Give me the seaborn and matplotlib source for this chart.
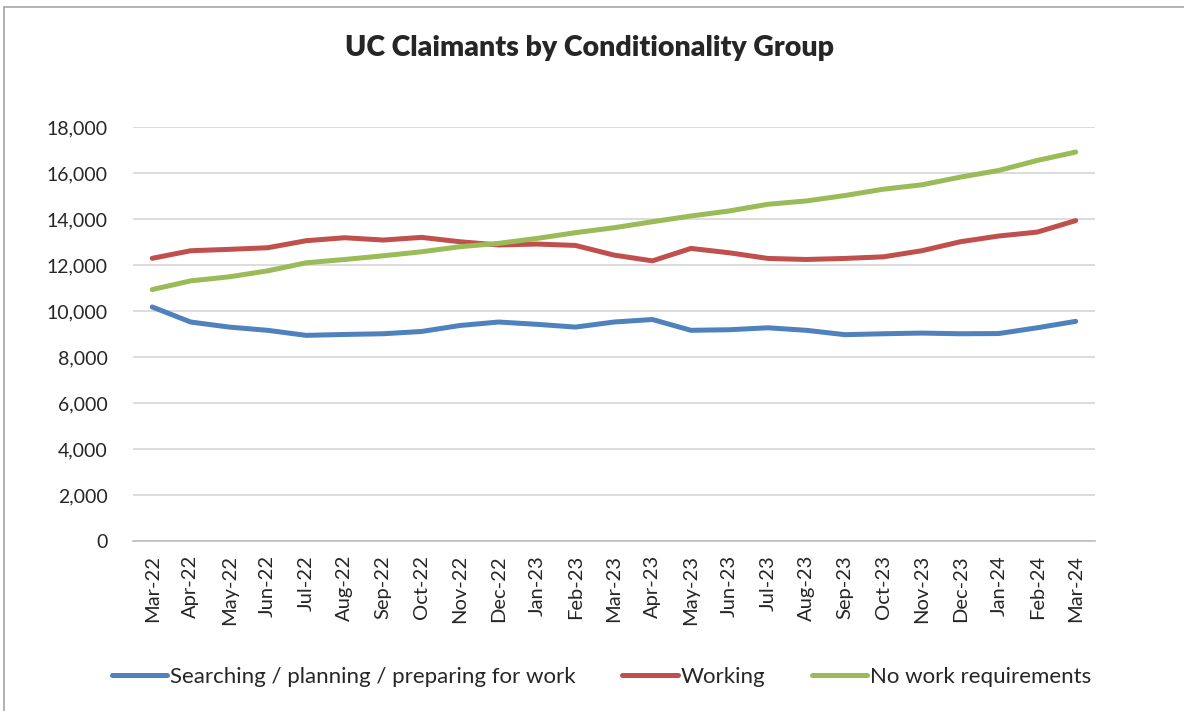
import pandas as pd
import numpy as np
import matplotlib
matplotlib.use("Agg")
import matplotlib.pyplot as plt
import seaborn as sns
from matplotlib.lines import Line2D

sns.set_theme(style="white")
plt.rcParams['font.family'] = ['Lato', 'DejaVu Sans']

# --- data ---
months = ["Mar-22", "Apr-22", "May-22", "Jun-22", "Jul-22", "Aug-22", "Sep-22",
          "Oct-22", "Nov-22", "Dec-22", "Jan-23", "Feb-23", "Mar-23", "Apr-23",
          "May-23", "Jun-23", "Jul-23", "Aug-23", "Sep-23", "Oct-23", "Nov-23",
          "Dec-23", "Jan-24", "Feb-24", "Mar-24"]

searching = [10175, 9520, 9300, 9160, 8940, 8980, 9010, 9110, 9370, 9520, 9420, 9300,
             9520, 9630, 9160, 9185, 9270, 9160, 8970, 9010, 9040, 9010, 9020, 9270, 9550]
working = [12290, 12620, 12680, 12750, 13055, 13185, 13085, 13200, 13010, 12870, 12910, 12850,
           12430, 12180, 12720, 12530, 12285, 12240, 12285, 12355, 12620, 13010, 13260, 13430, 13930]
no_work_req = [10930, 11310, 11485, 11745, 12095, 12240, 12400, 12575, 12795, 12940, 13155, 13405,
               13620, 13880, 14130, 14350, 14640, 14785, 15020, 15295, 15485, 15820, 16110, 16545, 16910]

series_names = ["Searching / planning / preparing for work", "Working", "No work requirements"]
colors = ["#4F81BD", "#C0504D", "#9BBB59"]

df = pd.DataFrame({
    "pos": list(range(len(months))) * 3,
    "value": searching + working + no_work_req,
    "group": [series_names[0]] * len(months) + [series_names[1]] * len(months) + [series_names[2]] * len(months),
})

fig = plt.figure(figsize=(11.84, 7.11), dpi=100)
ax = fig.add_axes([0.1123, 0.2391, 0.8125, 0.5823])

sns.lineplot(data=df, x="pos", y="value", hue="group", hue_order=series_names,
             palette=colors, linewidth=3.6, sort=False, ax=ax, legend=False)

ax.set_xlim(-0.5, len(months) - 0.5)
ax.set_ylim(0, 18000)
ax.set_yticks(np.arange(0, 18001, 2000))
ax.set_yticklabels([f"{v:,}" for v in range(0, 18001, 2000)], fontsize=14)
ax.yaxis.grid(True, color="#D9D9D9", linewidth=1.3)
ax.set_axisbelow(True)

ax.set_xticks(range(len(months)))
ax.set_xticklabels(months, rotation=90, fontsize=14.5)
ax.set_xticks(np.arange(-0.5, len(months), 1), minor=True)
ax.tick_params(axis="x", which="major", length=0, pad=10)
ax.tick_params(axis="x", which="minor", length=8, color="#BFBFBF", width=1.2, direction="out")
ax.tick_params(axis="y", length=0, pad=18)

for s in ["top", "right", "left"]:
    ax.spines[s].set_visible(False)
ax.spines["bottom"].set_color("#BFBFBF")
ax.spines["bottom"].set_linewidth(1.2)
ax.set_xlabel("")
ax.set_ylabel("")

fig.text(0.498, 0.933, "UC Claimants by Conditionality Group", ha="center", va="center",
         fontsize=20.5, fontweight="heavy")

handles = [Line2D([0], [0], color=c, linewidth=3.6) for c in colors]
fig.legend(handles, series_names, loc="center", bbox_to_anchor=(0.508, 0.048), ncol=3,
           frameon=False, fontsize=16, handlelength=2.5, handletextpad=0.12, columnspacing=2.1)

# outer frame of the chart area (top and left edges visible)
fig.add_artist(Line2D([4 / 1184, 4 / 1184], [0, 1 - 7 / 711], transform=fig.transFigure,
                      color="#A6A6A6", linewidth=1.2))
fig.add_artist(Line2D([4 / 1184, 1], [1 - 7 / 711, 1 - 7 / 711], transform=fig.transFigure,
                      color="#A6A6A6", linewidth=1.2))

fig.savefig("out.png", dpi=100)
